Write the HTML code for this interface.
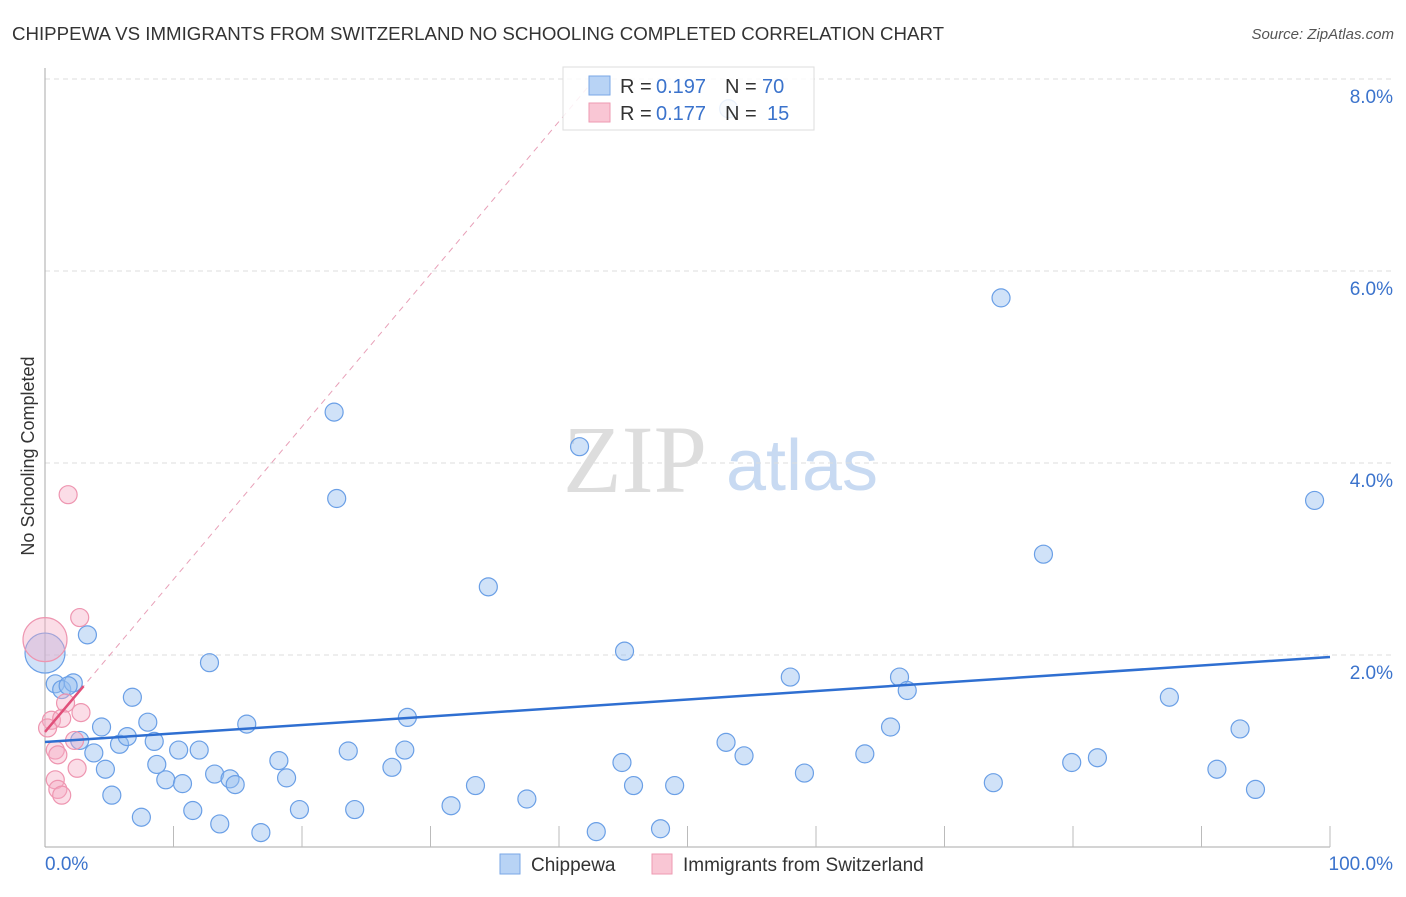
<!DOCTYPE html>
<html><head><meta charset="utf-8"><style>
body{margin:0;background:#fff;font-family:"Liberation Sans",sans-serif;}
</style></head><body>
<svg id="chart" width="1406" height="892" xmlns="http://www.w3.org/2000/svg" font-family="Liberation Sans, sans-serif">
<text x="12" y="40" font-size="18.7" fill="#333">CHIPPEWA VS IMMIGRANTS FROM SWITZERLAND NO SCHOOLING COMPLETED CORRELATION CHART</text>
<text x="1394" y="39" font-size="15" fill="#555" font-style="italic" text-anchor="end">Source: ZipAtlas.com</text>
<text transform="translate(34,456) rotate(-90)" font-size="18" fill="#333" text-anchor="middle">No Schooling Completed</text>
<g>
<text x="635" y="492" font-size="96" fill="#ddd" style="font-family:'Liberation Serif',serif" text-anchor="middle">ZIP</text>
<text x="802" y="490" font-size="72" fill="#c8daf2" text-anchor="middle">atlas</text>
</g>
<g id="grid"></g><g id="axes"></g><g id="lines0"></g><g id="pts"></g><g id="lines"></g>
<g>
<rect x="563" y="67" width="251" height="63" fill="rgba(255,255,255,0.85)" stroke="#ddd"/>
<rect x="589" y="76" width="21" height="19" fill="#b8d3f5" stroke="#7aa7e6"/>
<rect x="589" y="103" width="21" height="19" fill="#f9c6d4" stroke="#ee9ab2"/>
<text x="620" y="93" font-size="20" fill="#333">R =</text>
<text x="656" y="93" font-size="20" fill="#3b73cc">0.197</text>
<text x="725" y="93" font-size="20" fill="#333">N =</text>
<text x="762" y="93" font-size="20" fill="#3b73cc">70</text>
<text x="620" y="120" font-size="20" fill="#333">R =</text>
<text x="656" y="120" font-size="20" fill="#3b73cc">0.177</text>
<text x="725" y="120" font-size="20" fill="#333">N =</text>
<text x="767" y="120" font-size="20" fill="#3b73cc">15</text>
</g>
<g>
<rect x="500" y="854" width="20" height="20" fill="#b8d3f5" stroke="#7aa7e6"/>
<text x="531" y="871" font-size="19" fill="#333">Chippewa</text>
<rect x="652" y="854" width="20" height="20" fill="#f9c6d4" stroke="#ee9ab2"/>
<text x="683" y="871" font-size="19" fill="#333">Immigrants from Switzerland</text>
</g>
</svg>
<script>
const yTicks=[2,4,6,8];
const yTickLabels=["2.0%","4.0%","6.0%","8.0%"];
const xTickLabels=["0.0%","100.0%"];
const blueX=[0,0.8,1.3,2.2,1.8,3.3,2.7,3.8,4.4,4.7,5.2,5.8,6.4,6.8,7.5,8.0,8.5,8.7,9.4,10.4,10.7,11.5,12.0,12.8,13.2,13.6,14.4,14.8,15.7,16.8,18.2,18.8,19.8,22.5,22.7,23.6,24.1,27.0,28.0,28.2,31.6,33.5,34.5,37.5,41.6,42.9,44.9,45.1,45.8,47.9,49.0,53.0,53.2,54.4,58.0,59.1,63.8,65.8,66.5,67.1,73.8,74.4,77.7,79.9,81.9,87.5,91.2,93.0,94.2,98.8];
const blueY=[2.02,1.70,1.64,1.71,1.68,2.21,1.11,0.98,1.25,0.81,0.54,1.07,1.15,1.56,0.31,1.30,1.10,0.86,0.70,1.01,0.66,0.38,1.01,1.92,0.76,0.24,0.71,0.65,1.28,0.15,0.90,0.72,0.39,4.53,3.63,1.00,0.39,0.83,1.01,1.35,0.43,0.64,2.71,0.50,4.17,0.16,0.88,2.04,0.64,0.19,0.64,1.09,7.69,0.95,1.77,0.77,0.97,1.25,1.77,1.63,0.67,5.72,3.05,0.88,0.93,1.56,0.81,1.23,0.60,3.61];
const blueR=[20,9,9,9,9,9,9,9,9,9,9,9,9,9,9,9,9,9,9,9,9,9,9,9,9,9,9,9,9,9,9,9,9,9,9,9,9,9,9,9,9,9,9,9,9,9,9,9,9,9,9,9,9,9,9,9,9,9,9,9,9,9,9,9,9,9,9,9,9,9];
const pinkX=[0,1.8,2.7,0.5,0.2,0.8,1.0,1.3,1.6,2.3,2.8,0.8,1.0,1.3,2.5];
const pinkY=[2.16,3.67,2.39,1.32,1.24,1.01,0.96,1.34,1.50,1.11,1.40,0.70,0.60,0.54,0.82];
const pinkR=[22,9,9,9,9,9,9,9,9,9,9,9,9,9,9];
const blueTrend=[1.094,1.979];
const pinkTrend=[1.198,0.159];
const NS="http://www.w3.org/2000/svg";
const X=v=>45+v*12.85, Y=v=>847-v*96;
function mk(tag,attrs,parent){const e=document.createElementNS(NS,tag);for(const k in attrs)e.setAttribute(k,attrs[k]);document.getElementById(parent).appendChild(e);return e;}
yTicks.forEach((t,i)=>{
 const g=mk('line',{x1:45,x2:1394,y1:Y(t),y2:Y(t),stroke:'#ddd','stroke-dasharray':'5,4'},'grid');
 
 
 const l=mk('text',{x:1393,y:Y(t)+24,'font-size':19,fill:'#3b73cc','text-anchor':'end'},'grid');l.textContent=yTickLabels[i];
 
 
});
const ax=mk('line',{x1:45,x2:45,y1:68,y2:847,stroke:'#aaa'},'axes');


const bx=mk('line',{x1:45,x2:1330,y1:847,y2:847,stroke:'#aaa'},'axes');


for(let i=1;i<=10;i++){const t=mk('line',{x1:X(i*10),x2:X(i*10),y1:826,y2:847,stroke:'#bbb'},'axes');
 
 }
const xl0=mk('text',{x:45,y:870,'font-size':19,fill:'#3b73cc'},'axes');xl0.textContent=xTickLabels[0];


const xl1=mk('text',{x:1393,y:870,'font-size':19,fill:'#3b73cc','text-anchor':'end'},'axes');xl1.textContent=xTickLabels[1];


const pd=mk('line',{x1:X(0),y1:Y(pinkTrend[0]),x2:X(42.5),y2:Y(pinkTrend[0]+pinkTrend[1]*42.5),stroke:'#e8a0b8','stroke-width':1,'stroke-dasharray':'6,5'},'lines0');


blueX.forEach((v,i)=>{const c=mk('circle',{cx:X(v),cy:Y(blueY[i]),r:blueR[i],fill:'rgba(150,190,240,0.45)',stroke:'#6a9fe6','stroke-width':1.2},'pts');
 
 });
pinkX.forEach((v,i)=>{const c=mk('circle',{cx:X(v),cy:Y(pinkY[i]),r:pinkR[i],fill:'rgba(245,170,195,0.4)',stroke:'#ee95b0','stroke-width':1.2},'pts');
 
 });
const bl=mk('line',{x1:X(0),y1:Y(blueTrend[0]),x2:X(100),y2:Y(blueTrend[1]),stroke:'#2f6fd1','stroke-width':2.5},'lines');


const ps=mk('line',{x1:X(0),y1:Y(pinkTrend[0]),x2:X(3),y2:Y(pinkTrend[0]+pinkTrend[1]*3),stroke:'#e0507a','stroke-width':2.5},'lines');


</script>
</body></html>
